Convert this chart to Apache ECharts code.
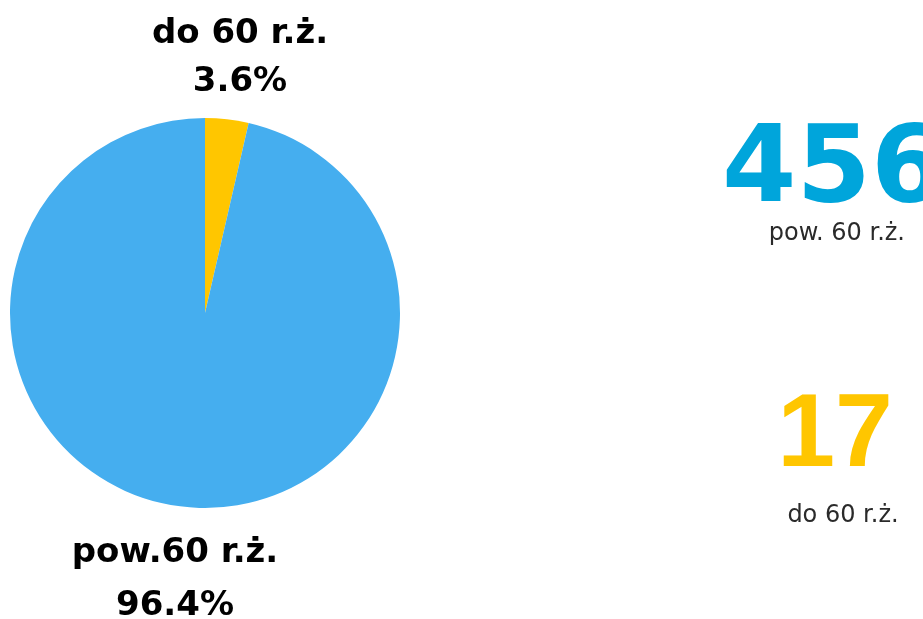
<!DOCTYPE html>
<html><head><meta charset="utf-8">
<script src="https://cdn.jsdelivr.net/npm/echarts@6/dist/echarts.min.js"></script>
<style>html,body{margin:0;padding:0;background:#fff}#c{width:923px;height:619px}</style>
</head><body><div id="c"></div>
<script>
const categories = ['do 60 r.ż.', 'pow.60 r.ż.'];
const values = [17, 456];
const colors = ['#ffc600', '#45aeef'];
const sideLabels = ['do 60 r.ż.', 'pow. 60 r.ż.'];
const sideColors = ['#ffc600', '#00a5db'];

const chart = echarts.init(document.getElementById('c'));
const labelPos = [[240, 58], [175, 580]];
const lineHeights = [48, 53];
chart.setOption({
  animation: false,
  series: [{
    type: 'pie',
    center: [205, 313],
    radius: [0, 195],
    startAngle: 90,
    clockwise: true,
    percentPrecision: 1,
    data: categories.map((n, i) => ({
      name: n, value: values[i], itemStyle: { color: colors[i] },
      label: { lineHeight: lineHeights[i] }
    })),
    label: {
      show: true,
      position: 'outside',
      formatter: '{b}\n{d}%',
      fontFamily: 'DejaVu Sans',
      fontWeight: 'bold',
      fontSize: 34,
      color: '#000',
      align: 'center',
      overflow: 'none'
    },
    labelLine: { show: false },
    labelLayout: function (p) {
      const pos = labelPos[p.dataIndex];
      return { x: pos[0], y: pos[1], align: 'center', verticalAlign: 'middle' };
    },
    emphasis: { disabled: true }
  }],
  graphic: [
    { type: 'text', x: 722, y: 173, style: { text: String(values[1]), font: 'bold 107px "DejaVu Sans"', fill: sideColors[1], align: 'left', verticalAlign: 'middle' } },
    { type: 'text', x: 905, y: 234, style: { text: sideLabels[1], font: '24px "DejaVu Sans"', fill: '#2a2a2a', align: 'right', verticalAlign: 'middle' } },
    { type: 'text', x: 835, y: 437, style: { text: String(values[0]), font: 'bold 104px "Liberation Sans"', fill: sideColors[0], align: 'center', verticalAlign: 'middle' } },
    { type: 'text', x: 843, y: 516, style: { text: sideLabels[0], font: '24px "DejaVu Sans"', fill: '#2a2a2a', align: 'center', verticalAlign: 'middle' } }
  ]
});
</script></body></html>
